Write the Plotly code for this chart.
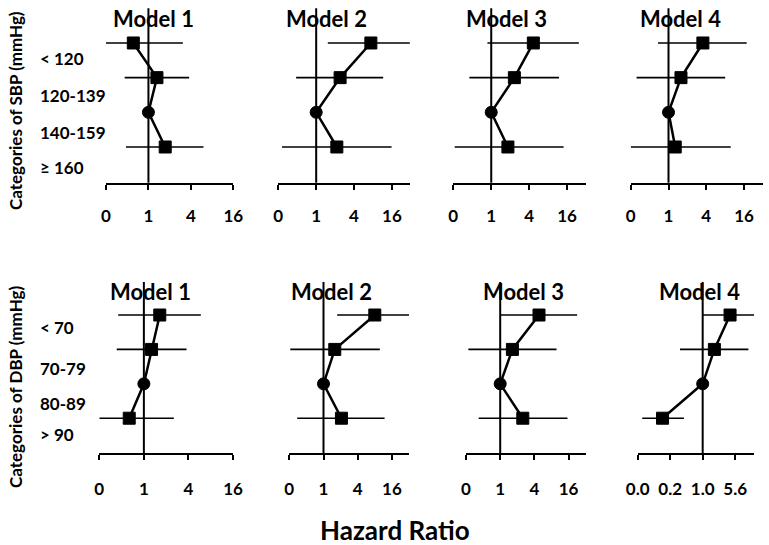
import math
import plotly.graph_objects as go

# ---------------- data ----------------
models = ["Model 1", "Model 2", "Model 3", "Model 4"]
sbp_labels = ["< 120", "120-139", "140-159", "≥ 160"]
dbp_labels = ["< 70", "70-79", "80-89", "> 90"]
row_symbols = ["square", "square", "circle", "square"]

# hazard ratios (row 3 = reference category)
sbp_hr = [[0.61, 1.32, 1.0, 1.73],
          [7.4, 2.4, 1.0, 2.13],
          [4.66, 2.33, 1.0, 1.84],
          [3.53, 1.58, 1.0, 1.28]]
sbp_lo = [[0.25, 0.46, None, 0.48],
          [1.53, 0.48, None, 0.286],
          [0.87, 0.45, None, 0.263],
          [0.68, 0.31, None, 0.25]]
sbp_hi = [[3.08, 3.78, None, 6.04],
          [30.8, 11.6, None, 15.8],
          [24.6, 11.9, None, 14.1],
          [17.6, 8.0, None, 9.8]]

dbp_hr = [[1.64, 1.27, 1.0, 0.634],
          [8.0, 1.58, 1.0, 2.07],
          [4.82, 1.64, 1.0, 2.5],
          [4.27, 1.86, 1.0, 0.119]]
dbp_lo = [[0.45, 0.43, None, 0.25],
          [1.74, 0.26, None, 0.344],
          [1.03, 0.275, None, 0.418],
          [0.97, 0.30, None, 0.0406]]
dbp_hi = [[5.88, 3.77, None, 2.54],
          [32.0, 9.8, None, 11.9],
          [22.6, 9.8, None, 15.3],
          [16.0, 11.3, None, 0.37]]

tick_vals_std = [0.25, 1, 4, 16]
tick_text_std = ["0", "1", "4", "16"]
tick_vals_m4dbp = [1 / 31.36, 1 / 5.6, 1.0, 5.6]
tick_text_m4dbp = ["0.0", "0.2", "1.0", "5.6"]

# axis ranges (data units)
x_start = [0.25, 0.25, 0.25, 0.25, 0.25, 0.25, 0.25, 1 / 31.36]
x_end = [16, 31, 31.6, 32, 16, 32, 32, 15.2]

# ---------------- layout geometry (pixels) ----------------
W, H = 769, 545
def px(x): return x / W
def py(y): return 1 - y / H

x_dom_px = [(106, 233.3), (278.3, 410), (453.3, 585.7), (630.7, 763),
            (99.3, 233), (289.3, 409), (466, 585.7), (637.7, 754)]
row_dom_px = [(8.3, 182.7), (282, 453.3)]
row_range = [[5.03, 0.0], [5.02, 0.04]]
title_pos = [(153, 18), (326, 18), (506, 18), (680, 18),
             (150, 291), (331, 291), (523, 291), (699, 291)]
label_y_px = [[58, 95, 133, 167], [327, 368, 403, 434]]

FONT = "Lato"
fig = go.Figure()

for k in range(8):
    r, m = divmod(k, 4)
    xa = "x" if k == 0 else f"x{k+1}"
    ya = "y" if r == 0 else "y2"
    hr = (sbp_hr if r == 0 else dbp_hr)[m]
    lo = (sbp_lo if r == 0 else dbp_lo)[m]
    hi = (sbp_hi if r == 0 else dbp_hi)[m]
    rows = [1, 2, 3, 4]
    # CI segments
    cx, cy = [], []
    for i in range(4):
        if lo[i] is not None:
            cx += [lo[i], hi[i], None]
            cy += [rows[i], rows[i], None]
    fig.add_trace(go.Scatter(x=cx, y=cy, mode="lines", xaxis=xa, yaxis=ya,
                             line=dict(color="black", width=1.6),
                             showlegend=False, hoverinfo="skip"))
    fig.add_trace(go.Scatter(x=hr, y=rows, mode="lines+markers", xaxis=xa, yaxis=ya,
                             line=dict(color="black", width=2.5),
                             marker=dict(symbol=row_symbols, size=12, color="black",
                                         line=dict(color="black", width=1)),
                             showlegend=False))
    # vertical reference line at HR = 1
    fig.add_shape(type="line", xref=xa, yref=f"{ya} domain", x0=1, x1=1, y0=0, y1=1,
                  line=dict(color="black", width=2))

    tv = tick_vals_m4dbp if k == 7 else tick_vals_std
    tt = tick_text_m4dbp if k == 7 else tick_text_std
    xkey = "xaxis" if k == 0 else f"xaxis{k+1}"
    fig.layout[xkey] = dict(
        type="log",
        range=[math.log10(x_start[k]), math.log10(x_end[k])],
        domain=[px(x_dom_px[k][0]), px(x_dom_px[k][1])],
        anchor=ya, showline=True, linecolor="black", linewidth=2,
        ticks="outside", ticklen=5, tickwidth=2, tickcolor="black",
        tickvals=tv, ticktext=[f"<b>{t}</b>" for t in tt],
        tickfont=dict(family=FONT, size=17, color="black"),
        ticklabelstandoff=12 if r == 0 else 14,
        showgrid=False, zeroline=False, fixedrange=True, automargin=False,
    )
    tx, ty = title_pos[k]
    fig.add_annotation(x=px(tx), y=py(ty), xref="paper", yref="paper",
                       text=f"<b>{models[m]}</b>", showarrow=False,
                       font=dict(family=FONT, size=22, color="black"),
                       xanchor="center", yanchor="middle")

for r in range(2):
    ykey = "yaxis" if r == 0 else "yaxis2"
    fig.layout[ykey] = dict(domain=[py(row_dom_px[r][1]), py(row_dom_px[r][0])],
                            range=row_range[r], visible=False, fixedrange=True,
                            automargin=False)
    labels = sbp_labels if r == 0 else dbp_labels
    for i, lab in enumerate(labels):
        fig.add_annotation(x=px(38), y=py(label_y_px[r][i]), xref="paper", yref="paper",
                           text=f"<b>{lab}</b>", showarrow=False, xanchor="left",
                           yanchor="middle",
                           font=dict(family=FONT, size=17, color="black"))

fig.add_annotation(x=px(15), y=py(111), xref="paper", yref="paper",
                   text="<b>Categories of SBP (mmHg)</b>", textangle=-90, showarrow=False,
                   xanchor="center", yanchor="middle",
                   font=dict(family=FONT, size=17, color="black"))
fig.add_annotation(x=px(15), y=py(387), xref="paper", yref="paper",
                   text="<b>Categories of DBP (mmHg)</b>", textangle=-90, showarrow=False,
                   xanchor="center", yanchor="middle",
                   font=dict(family=FONT, size=17, color="black"))
fig.add_annotation(x=px(395), y=py(530), xref="paper", yref="paper",
                   text="<b>Hazard Ratio</b>", showarrow=False,
                   xanchor="center", yanchor="middle",
                   font=dict(family=FONT, size=26, color="black"))

fig.update_layout(template="none", width=W, height=H,
                  margin=dict(l=0, r=0, t=0, b=0, pad=0, autoexpand=False),
                  paper_bgcolor="white", plot_bgcolor="white",
                  font=dict(family=FONT, color="black"))

fig.write_html("out.html", config={"displayModeBar": False},
               post_script="document.body.style.margin='0';document.body.style.overflow='hidden';")
